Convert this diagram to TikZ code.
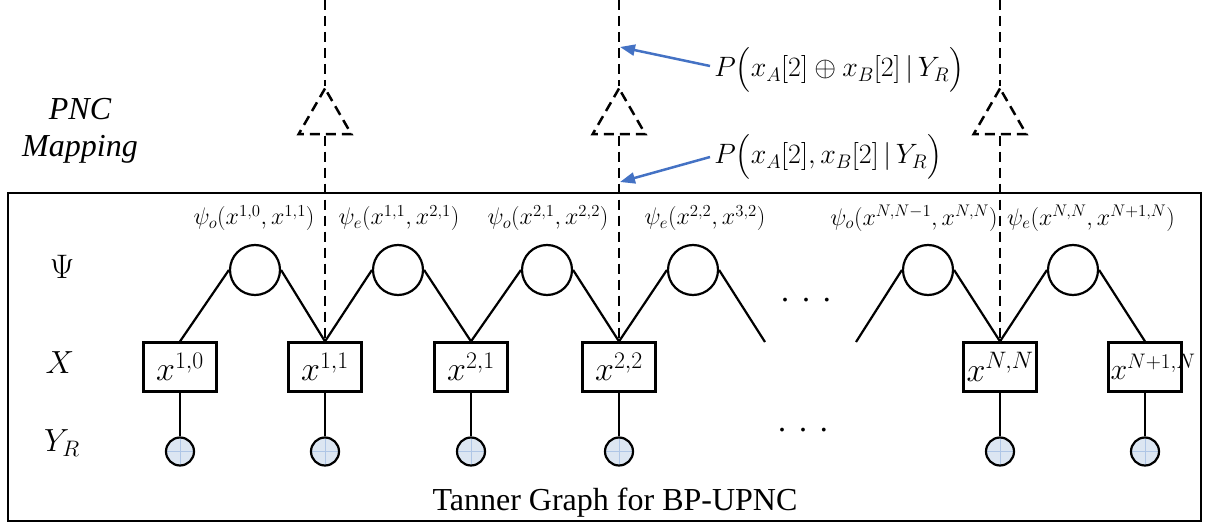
\RequirePackage{fix-cm}
\documentclass[tikz,border=0pt]{standalone}
\usepackage{exscale}
\usepackage{fontspec}
\setmainfont{Liberation Serif}
\usetikzlibrary{positioning,arrows.meta,shapes.geometric}
\definecolor{msgblue}{RGB}{68,114,196}
\definecolor{obsfill}{RGB}{220,230,242}
\definecolor{obsgrid}{RGB}{175,198,230}

\begin{document}
\begin{tikzpicture}[x=1pt,y=-1pt,line width=2.2pt,node distance=84.5pt,
    factor node/.style={circle,draw,minimum size=50pt,inner sep=0pt},
    var node/.style={rectangle,draw,minimum width=73pt,minimum height=49pt,inner sep=0pt,font=\fontsize{34}{40}\selectfont},
    obs node/.style={circle,draw,fill=obsfill,minimum size=28pt,inner sep=0pt,
        path picture={\draw[obsgrid,line width=0.8pt]
            (path picture bounding box.north) -- (path picture bounding box.south)
            (path picture bounding box.west) -- (path picture bounding box.east);}},
    map node/.style={regular polygon,regular polygon sides=3,draw,minimum size=61pt,inner sep=0pt,map line},
    map line/.style={line width=2.5pt,dash pattern=on 10pt off 6pt},
    msg arrow/.style={-{Triangle[length=15pt,width=11pt]},msgblue,line width=2.5pt},
    fac label/.style={font=\fontsize{24}{28}\selectfont},
    side label/.style={font=\fontsize{32}{37}\selectfont}]
    \useasboundingbox (0,0) rectangle (1207,529);

    % frame
    \draw[line width=2pt] (8,193) rectangle (1201,521);
    \node[side label] (title) at (615,503) {Tanner Graph for BP-UPNC};

    % row labels
    \node[side label,align=center,font=\fontsize{32}{37}\selectfont\itshape] (pnc) at (80,131) {PNC\\Mapping};
    \node[side label,font=\fontsize{34}{38}\selectfont] (psi) at (62,267) {$\Psi$};
    \node[side label] (xrow) at (60,363) {$X$};
    \node[side label] (yrow) at (62,443) {$Y_R$};

    % variable nodes
    \node[var node] (v1) at (180,367) {$x^{1,0}$};
    \node[var node] (v2) at (325,367) {$x^{1,1}$};
    \node[var node] (v3) at (471,367) {$x^{2,1}$};
    \node[var node] (v4) at (619,367) {$x^{2,2}$};
    \node[var node] (v5) at (1000,367) {$x^{N,N}$};
    \node[var node,font=\fontsize{30}{36}\selectfont] (v6) at (1145,367) {\makebox[69pt][l]{$x^{N+1,N}$}};

    % observations
    \node[obs node] (o1) [below of = v1] {};
    \node[obs node] (o2) [below of = v2] {};
    \node[obs node] (o3) [below of = v3] {};
    \node[obs node] (o4) [below of = v4] {};
    \node[obs node] (o5) [below of = v5] {};
    \node[obs node] (o6) [below of = v6] {};

    % factor nodes
    \node[factor node] (f1) at (255,270) {};
    \node[factor node] (f2) at (398,270) {};
    \node[factor node] (f3) at (547,270) {};
    \node[factor node] (f4) at (693,270) {};
    \node[factor node] (f5) at (928,270) {};
    \node[factor node] (f6) at (1073,270) {};

    \node[fac label] (l1) at (254,218) {$\psi_o(x^{1,0},x^{1,1})$};
    \node[fac label] (l2) at (399,218) {$\psi_e(x^{1,1},x^{2,1})$};
    \node[fac label] (l3) at (548,218) {$\psi_o(x^{2,1},x^{2,2})$};
    \node[fac label] (l4) at (705,218) {$\psi_e(x^{2,2},x^{3,2})$};
    \node[fac label] (l5) at (914,218) {$\psi_o(x^{N,N-1},x^{N,N})$};
    \node[fac label] (l6) at (1091,218) {$\psi_e(x^{N,N},x^{N+1,N})$};

    \coordinate (e4) at (765,342);
    \coordinate (e5) at (856,342);
    \node[side label] (dots1) at (806,300) {.\hspace{13pt}.\hspace{13pt}.};
    \node[side label] (dots2) at (803,430) {.\hspace{13pt}.\hspace{13pt}.};

    % edges
    \path
        (f1.west) edge (v1.north)
        (f1.east) edge (v2.north)
        (f2.west) edge (v2.north)
        (f2.east) edge (v3.north)
        (f3.west) edge (v3.north)
        (f3.east) edge (v4.north)
        (f4.west) edge (v4.north)
        (f4.east) edge (e4)
        (e5) edge (f5.west)
        (f5.east) edge (v5.north)
        (f6.west) edge (v5.north)
        (f6.east) edge (v6.north)
        (v1) edge (o1)
        (v2) edge (o2)
        (v3) edge (o3)
        (v4) edge (o4)
        (v5) edge (o5)
        (v6) edge (o6)
        ;

    % PNC mapping
    \node[map node] (m2) at (325,119) {};
    \node[map node] (m4) at (619,119) {};
    \node[map node] (m5) at (1000,119) {};
    \coordinate (t2) at (325,0);
    \coordinate (t4) at (619,0);
    \coordinate (t5) at (1000,0);
    \draw[map line] (t2) -- (m2.corner 1);
    \draw[map line] (t4) -- (m4.corner 1);
    \draw[map line] (t5) -- (m5.corner 1);
    \draw[map line] (m2.south) -- (v2.north);
    \draw[map line] (m4.south) -- (v4.north);
    \draw[map line] (m5.south) -- (v5.north);

    % messages
    \node[fac label,anchor=west,font=\fontsize{28}{32}\selectfont] (p1) at (710,70) {$P\bigl(x_A[2]\oplus x_B[2]\,|\,Y_R\bigr)$};
    \node[fac label,anchor=west,font=\fontsize{28}{32}\selectfont] (p2) at (710,157) {$P\bigl(x_A[2],x_B[2]\,|\,Y_R\bigr)$};
    \coordinate (a1) at (620,47);
    \coordinate (a2) at (620,182);
    \draw[msg arrow] (p1.west) ++(0,-4) -- (a1);
    \draw[msg arrow] (p2.west) -- (a2);
\end{tikzpicture}
\end{document}
